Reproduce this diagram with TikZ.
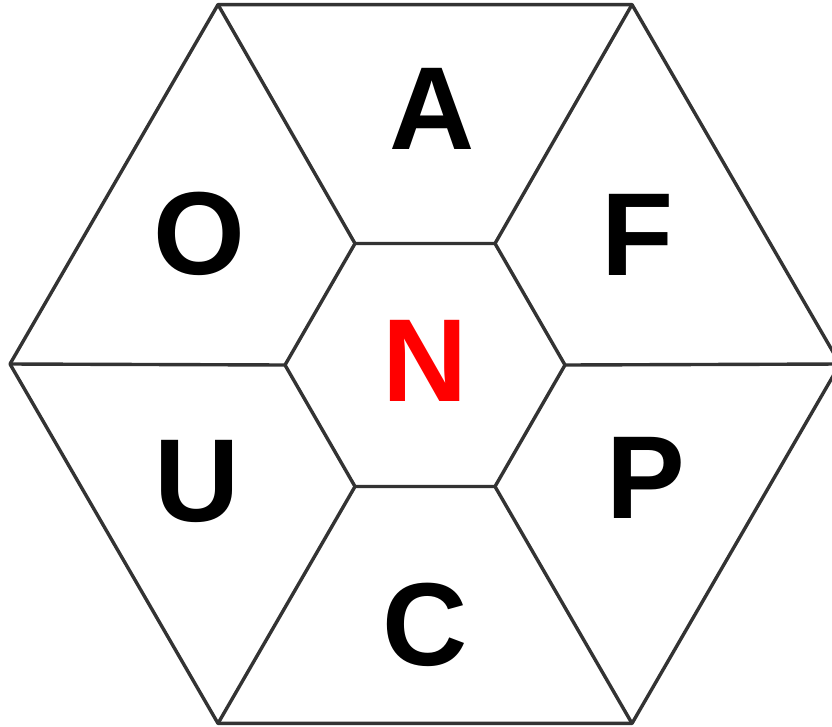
\documentclass[tikz,border=0pt]{standalone}
\usepackage{fontspec}
\setmainfont{Liberation Sans}
\usetikzlibrary{positioning}
\definecolor{hexgray}{HTML}{333333}
\definecolor{hexred}{HTML}{FF0000}
\tikzset{
    edge/.style={draw=hexgray, line width=3.4pt, line join=round},
    letter/.style={font=\fontsize{118}{118}\selectfont\bfseries, inner sep=0pt}
}

\begin{document}
\begin{tikzpicture}[x=1pt, y=-1pt]
        \useasboundingbox (0, 0) rectangle (832, 726);

        % Outer hexagon corners
        \coordinate (o1) at (218, 4.6);
        \coordinate (o2) at (632, 4.6);
        \coordinate (o3) at (840, 364);
        \coordinate (o4) at (632, 723.4);
        \coordinate (o5) at (218, 723.4);
        \coordinate (o6) at (10, 364);

        % Inner hexagon corners
        \coordinate (i1) at (355, 243.5);
        \coordinate (i2) at (495, 243.5);
        \coordinate (i3) at (565, 365);
        \coordinate (i4) at (495, 486.5);
        \coordinate (i5) at (355, 486.5);
        \coordinate (i6) at (285, 365);

        % Hexagons
        \draw[edge] (o1) -- (o2) -- (o3) -- (o4) -- (o5) -- (o6) -- cycle;
        \draw[edge] (i1) -- (i2) -- (i3) -- (i4) -- (i5) -- (i6) -- cycle;

        % Spokes
        \draw[edge] (i1) -- (o1);
        \draw[edge] (i2) -- (o2);
        \draw[edge] (i3) -- (o3);
        \draw[edge] (i4) -- (o4);
        \draw[edge] (i5) -- (o5);
        \draw[edge] (i6) -- (o6);

        % Letters
        \node[letter, text=hexred] (n) at (425, 361) {N};
        \node[letter] (a) at (432, 109) {A};
        \node[letter] (f) at (638, 235) {F};
        \node[letter] (p) at (646, 478) {P};
        \node[letter] (c) at (425, 625) {C};
        \node[letter] (u) at (197, 481) {U};
        \node[letter] (o) at (199, 234) {O};
\end{tikzpicture}
\end{document}
